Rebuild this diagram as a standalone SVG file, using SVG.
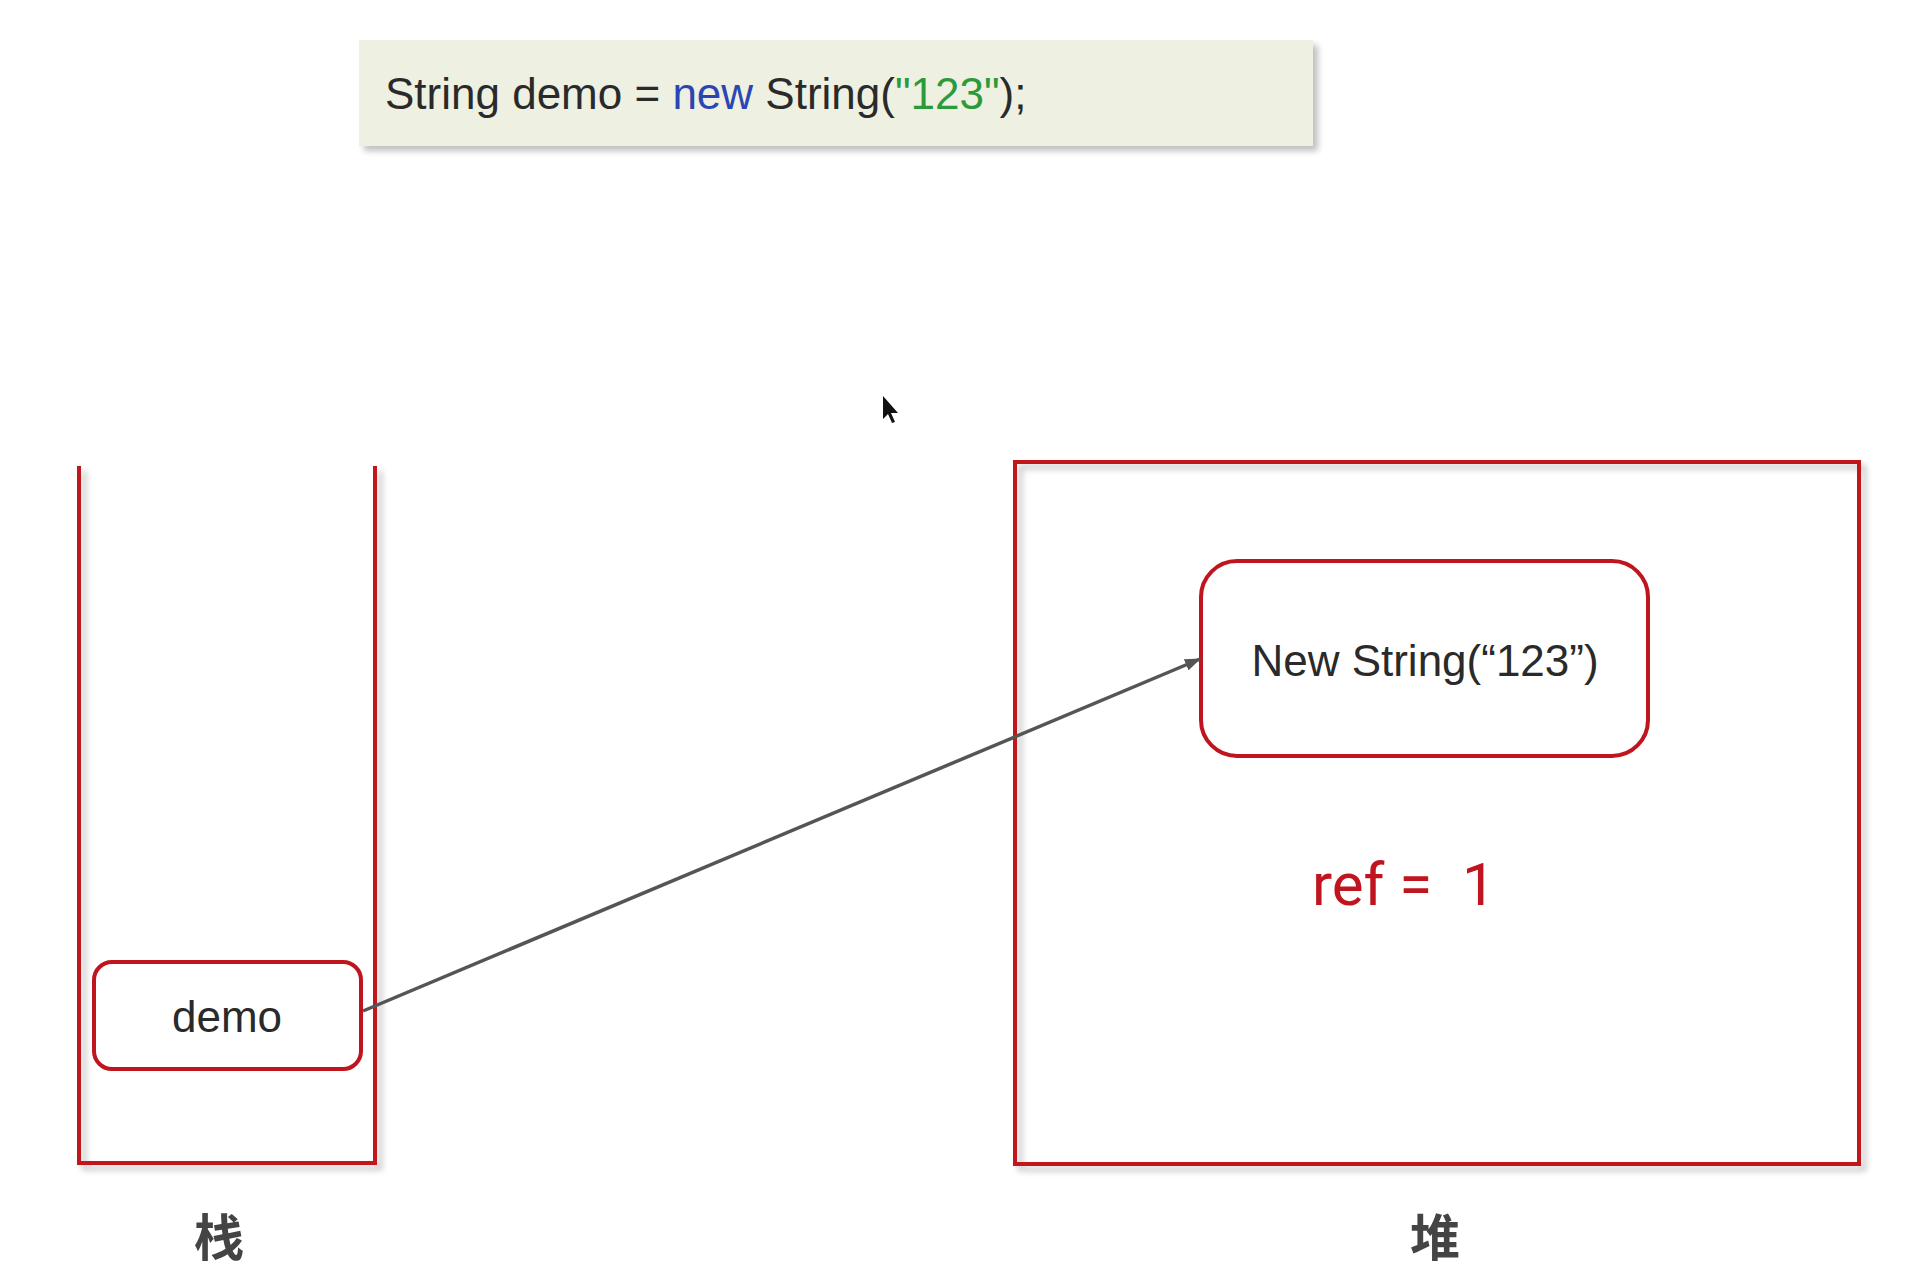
<svg xmlns="http://www.w3.org/2000/svg" width="1910" height="1275" viewBox="0 0 1910 1275">
<defs>
<style>
.red{fill:none;stroke:#c0141e;stroke-width:4}
.t{font-family:"Liberation Sans",Arial,sans-serif;font-size:44px;fill:#2a2a2a}
.cjk{font-family:"Noto Sans CJK SC",sans-serif;font-size:50px;font-weight:700;fill:#444;text-anchor:middle}
</style>
<filter id="sh" x="-5%" y="-5%" width="115%" height="115%">
<feGaussianBlur in="SourceAlpha" stdDeviation="3"/>
<feOffset dx="5" dy="5" result="b"/>
<feComponentTransfer><feFuncA type="linear" slope="0.25"/></feComponentTransfer>
<feMerge><feMergeNode/><feMergeNode in="SourceGraphic"/></feMerge>
</filter>
<marker id="arr" markerWidth="16" markerHeight="12" refX="15" refY="6" orient="auto" markerUnits="userSpaceOnUse" viewBox="0 0 16 12">
<path d="M0,0 L16,6 L0,12 Z" fill="#555"/>
</marker>
</defs>
<rect width="1910" height="1275" fill="#fff"/>
<g id="code">
<rect x="359" y="40" width="954" height="106" fill="#eef0e2" filter="url(#sh)"/>
<text class="t" x="385" y="109">String demo = <tspan fill="#2b45b3">new</tspan> String(<tspan fill="#2a9a3a">"123"</tspan>);</text>
</g>
<g id="stack">
<path class="red" d="M79,466 V1163 H375 V466" filter="url(#sh)"/>
<text class="cjk" x="219" y="1256">栈</text>
</g>
<g id="demo">
<rect class="red" x="94" y="962" width="267" height="107" rx="18" fill="#fff"/>
<text class="t" x="227" y="1032" text-anchor="middle">demo</text>
</g>
<g id="heap">
<rect class="red" x="1015" y="462" width="844" height="702" filter="url(#sh)"/>
<text class="cjk" x="1435" y="1256">堆</text>
</g>
<g id="obj">
<rect class="red" x="1201" y="561" width="447" height="195" rx="36" fill="#fff"/>
<text class="t" x="1425" y="676" text-anchor="middle">New String(“123”)</text>
<text x="1312" y="905" font-family="Roboto,sans-serif" font-size="60" fill="#c0141e" xml:space="preserve">ref =  1</text>
</g>
<g id="connectors">
<line x1="363" y1="1011" x2="1200" y2="659" stroke="#555" stroke-width="3.5" marker-end="url(#arr)"/>
</g>
<path d="M883,396 L883,419 L888,414 L892,423 L895,422 L891,413 L898,413 Z" fill="#111"/>
</svg>
